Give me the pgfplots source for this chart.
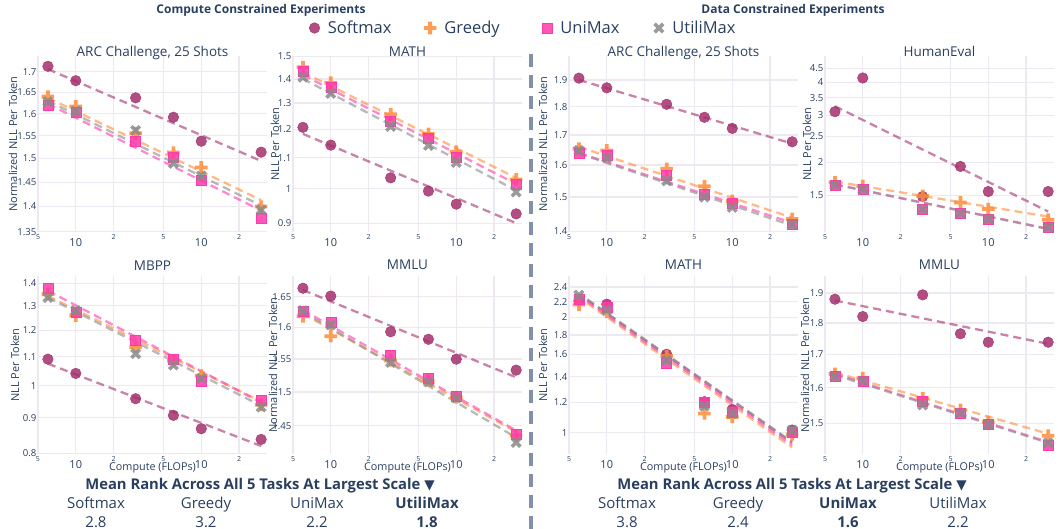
\documentclass[border=0pt]{standalone}
\usepackage{pgfplots}
\pgfplotsset{compat=1.18}
\usepackage{fontspec}
\setmainfont{Open Sans}
\newfontfamily\dejavu{DejaVu Sans}
\definecolor{txt}{HTML}{2A3F5F}
\definecolor{smc}{HTML}{A3306C}
\definecolor{grc}{HTML}{FF8C3A}
\definecolor{umc}{HTML}{FF3AAA}
\definecolor{utc}{HTML}{8A8A8A}
\definecolor{gridc}{HTML}{EEE8F1}
\definecolor{sepc}{HTML}{8390AB}

\pgfdeclareplotmark{fplus}{%
  \pgfmathsetmacro{\mks}{\pgfplotmarksize}%
  \pgfmathsetmacro{\mkw}{0.3*\pgfplotmarksize}%
  \pgfpathmoveto{\pgfpoint{-\mkw pt}{\mks pt}}%
  \pgfpathlineto{\pgfpoint{\mkw pt}{\mks pt}}%
  \pgfpathlineto{\pgfpoint{\mkw pt}{\mkw pt}}%
  \pgfpathlineto{\pgfpoint{\mks pt}{\mkw pt}}%
  \pgfpathlineto{\pgfpoint{\mks pt}{-\mkw pt}}%
  \pgfpathlineto{\pgfpoint{\mkw pt}{-\mkw pt}}%
  \pgfpathlineto{\pgfpoint{\mkw pt}{-\mks pt}}%
  \pgfpathlineto{\pgfpoint{-\mkw pt}{-\mks pt}}%
  \pgfpathlineto{\pgfpoint{-\mkw pt}{-\mkw pt}}%
  \pgfpathlineto{\pgfpoint{-\mks pt}{-\mkw pt}}%
  \pgfpathlineto{\pgfpoint{-\mks pt}{\mkw pt}}%
  \pgfpathlineto{\pgfpoint{-\mkw pt}{\mkw pt}}%
  \pgfpathclose\pgfusepathqfill}
\pgfdeclareplotmark{fcross}{%
  \pgfscope\pgftransformrotate{45}%
  \pgfmathsetmacro{\mks}{\pgfplotmarksize}%
  \pgfmathsetmacro{\mkw}{0.3*\pgfplotmarksize}%
  \pgfpathmoveto{\pgfpoint{-\mkw pt}{\mks pt}}%
  \pgfpathlineto{\pgfpoint{\mkw pt}{\mks pt}}%
  \pgfpathlineto{\pgfpoint{\mkw pt}{\mkw pt}}%
  \pgfpathlineto{\pgfpoint{\mks pt}{\mkw pt}}%
  \pgfpathlineto{\pgfpoint{\mks pt}{-\mkw pt}}%
  \pgfpathlineto{\pgfpoint{\mkw pt}{-\mkw pt}}%
  \pgfpathlineto{\pgfpoint{\mkw pt}{-\mks pt}}%
  \pgfpathlineto{\pgfpoint{-\mkw pt}{-\mks pt}}%
  \pgfpathlineto{\pgfpoint{-\mkw pt}{-\mkw pt}}%
  \pgfpathlineto{\pgfpoint{-\mks pt}{-\mkw pt}}%
  \pgfpathlineto{\pgfpoint{-\mks pt}{\mkw pt}}%
  \pgfpathlineto{\pgfpoint{-\mkw pt}{\mkw pt}}%
  \pgfpathclose\pgfusepathqfill\endpgfscope}

\newcommand{\smlab}[1]{\raisebox{-8pt}[0pt][0pt]{\fontsize{7}{7}\selectfont #1}}
\newcommand{\biglab}[1]{\raisebox{-15pt}[0pt][0pt]{\fontsize{11}{11}\selectfont #1}}

\pgfplotsset{
  mysm/.style={only marks, mark=*, mark size=5.3pt, color=smc, mark options={draw=none, fill=smc, fill opacity=0.85}},
  mygr/.style={only marks, mark=fplus, mark size=6.3pt, color=grc, mark options={draw=none, fill=grc, fill opacity=0.85}},
  myum/.style={only marks, mark=square*, mark size=5pt, color=umc, mark options={draw=none, fill=umc, fill opacity=0.85}},
  myut/.style={only marks, mark=fcross, mark size=6pt, color=utc, mark options={draw=none, fill=utc, fill opacity=0.85}},
  myfit/.style={no marks, line width=2.3pt, dash pattern=on 8pt off 5pt, opacity=0.6, forget plot},
  mypanel/.style={scale only axis, width=229pt, xmin=5, xmax=334,
    axis line style={draw=none}, major tick length=0pt, minor tick length=0pt,
    xtick={5,10,20,50,100,200},
    xticklabels={\smlab{5},\biglab{10},\smlab{2},\smlab{5},\biglab{10},\smlab{2}},
    xmajorgrids, ymajorgrids, grid style={gridc, line width=1.3pt},
    tick label style={font=\fontsize{9.6}{12}\selectfont, text=txt},
    xticklabel style={anchor=center, inner sep=0pt},
    yticklabel style={anchor=east, inner sep=0pt, xshift=-1.5pt},
    ylabel style={font=\fontsize{11}{13}\selectfont, text=txt, anchor=center},
    title style={font=\fontsize{13.5}{16}\selectfont, text=txt, anchor=base, at={(0.5,1)}},
    xlabel style={font=\fontsize{10.8}{13}\selectfont, text=txt},
  },
  myrowa/.style={height=176pt, title style={yshift=-7pt}},
  myrowb/.style={height=178pt, title style={yshift=0pt}},
}

\begin{document}
\begin{tikzpicture}
\useasboundingbox (0pt,0pt) rectangle (1058pt,529pt);

% ---------- P1: ARC compute
\begin{axis}[mypanel,myrowa,xmode=log,ymode=log,at={(38pt,297pt)},anchor=south west,
  ymin=1.3497,ymax=1.7388,
  ytick={1.35,1.4,1.45,1.5,1.55,1.6,1.65,1.7},yticklabels={1.35,1.4,1.45,1.5,1.55,1.6,1.65,1.7},
  title={ARC Challenge, 25 Shots},
  ylabel={Normalized NLL Per Token},ylabel style={at={(axis description cs:-0.109,0.5)}}]
\addplot[myfit,smc] coordinates {(6,1.706) (300,1.495)};
\addplot[myfit,grc] coordinates {(6,1.637) (300,1.413)};
\addplot[myfit,umc] coordinates {(6,1.623) (300,1.392)};
\addplot[myfit,utc] coordinates {(6,1.630) (300,1.402)};
\addplot[mysm] coordinates {(6,1.713) (10,1.678) (30,1.637) (60,1.592) (100,1.538) (300,1.514)};
\addplot[mygr] coordinates {(6,1.640) (10,1.617) (30,1.556) (60,1.513) (100,1.481) (300,1.400)};
\addplot[myum] coordinates {(6,1.620) (10,1.603) (30,1.537) (60,1.503) (100,1.455) (300,1.377)};
\addplot[myut] coordinates {(6,1.628) (10,1.606) (30,1.562) (60,1.490) (100,1.463) (300,1.393)};
\end{axis}

% ---------- P2: MATH compute
\begin{axis}[mypanel,myrowa,xmode=log,ymode=log,at={(293pt,297pt)},anchor=south west,
  ymin=0.876,ymax=1.502,
  ytick={0.9,1,1.1,1.2,1.3,1.4,1.5},yticklabels={0.9,1,1.1,1.2,1.3,1.4,1.5},
  title={MATH},
  ylabel={NLL Per Token},ylabel style={at={(axis description cs:-0.079,0.5)}},
  legend columns=4, legend cell align=left,
  legend style={at={(axis description cs:0.070,1.159)},anchor=west,draw=none,fill=none,
    inner sep=0pt,font=\fontsize{16.5}{20}\selectfont,text=txt,
    /tikz/every even column/.append style={column sep=0pt}}]
\addplot[myfit,smc] coordinates {(6,1.183) (300,0.900)};
\addplot[myfit,grc] coordinates {(6,1.429) (300,1.034)};
\addplot[myfit,umc] coordinates {(6,1.417) (300,1.015)};
\addplot[myfit,utc] coordinates {(6,1.400) (300,0.995)};
\addplot[mysm] coordinates {(6,1.207) (10,1.143) (30,1.034) (60,0.993) (100,0.954) (300,0.926)};
\addlegendentry{\makebox[100pt][l]{\hspace{6pt}Softmax}}
\addplot[mygr] coordinates {(6,1.451) (10,1.384) (30,1.256) (60,1.183) (100,1.120) (300,1.029)};
\addlegendentry{\makebox[102pt][l]{\hspace{6pt}Greedy}}
\addplot[myum] coordinates {(6,1.432) (10,1.366) (30,1.231) (60,1.166) (100,1.100) (300,1.013)};
\addlegendentry{\makebox[97pt][l]{\hspace{6pt}UniMax}}
\addplot[myut] coordinates {(6,1.408) (10,1.339) (30,1.210) (60,1.142) (100,1.084) (300,0.990)};
\addlegendentry{\makebox[75pt][l]{\hspace{6pt}UtiliMax}}
\end{axis}

% ---------- P3: ARC data
\begin{axis}[mypanel,myrowa,xmode=log,ymode=log,at={(569pt,297pt)},anchor=south west,
  ymin=1.398,ymax=1.994,
  ytick={1.4,1.5,1.6,1.7,1.8,1.9},yticklabels={1.4,1.5,1.6,1.7,1.8,1.9},
  title={ARC Challenge, 25 Shots},
  ylabel={Normalized NLL Per Token},ylabel style={at={(axis description cs:-0.114,0.5)}}]
\addplot[myfit,smc] coordinates {(6,1.900) (300,1.671)};
\addplot[myfit,grc] coordinates {(6,1.660) (300,1.439)};
\addplot[myfit,umc] coordinates {(6,1.640) (300,1.424)};
\addplot[myfit,utc] coordinates {(6,1.638) (300,1.416)};
\addplot[mysm] coordinates {(6,1.907) (10,1.870) (30,1.809) (60,1.762) (100,1.723) (300,1.677)};
\addplot[mygr] coordinates {(6,1.654) (10,1.648) (30,1.588) (60,1.533) (100,1.488) (300,1.435)};
\addplot[myum] coordinates {(6,1.638) (10,1.632) (30,1.569) (60,1.508) (100,1.483) (300,1.421)};
\addplot[myut] coordinates {(6,1.648) (10,1.624) (30,1.550) (60,1.500) (100,1.469) (300,1.419)};
\end{axis}

% ---------- P4: HumanEval
\begin{axis}[mypanel,myrowa,xmode=log,ymode=log,at={(825pt,297pt)},anchor=south west,
  ymin=1.094,ymax=5.02,
  ytick={1.5,2,2.5,3,3.5,4,4.5},yticklabels={1.5,2,2.5,3,3.5,4,4.5},
  title={HumanEval},
  ylabel={NLL Per Token},ylabel style={at={(axis description cs:-0.079,0.5)}}]
\addplot[myfit,smc] coordinates {(6,3.25) (300,1.306)};
\addplot[myfit,grc] coordinates {(6,1.693) (300,1.25)};
\addplot[myfit,umc] coordinates {(6,1.654) (300,1.125)};
\addplot[myfit,utc] coordinates {(6,1.650) (300,1.122)};
\addplot[mysm] coordinates {(6,3.10) (10,4.15) (30,1.487) (60,1.93) (100,1.553) (300,1.553)};
\addplot[mygr] coordinates {(6,1.68) (10,1.63) (30,1.495) (60,1.413) (100,1.334) (300,1.216)};
\addplot[myum] coordinates {(6,1.645) (10,1.585) (30,1.336) (60,1.288) (100,1.226) (300,1.14)};
\addplot[myut] coordinates {(6,1.64) (10,1.58) (30,1.33) (60,1.285) (100,1.222) (300,1.137)};
\end{axis}

% ---------- P5: MBPP
\begin{axis}[mypanel,myrowb,xmode=log,ymode=log,at={(38pt,75pt)},anchor=south west,
  ymin=0.799,ymax=1.434,
  ytick={0.8,0.9,1,1.1,1.2,1.3,1.4},yticklabels={0.8,0.9,1,1.1,1.2,1.3,1.4},
  title={MBPP},xlabel={Compute (FLOPs)},xlabel style={at={(axis description cs:0.5,-0.08)},anchor=center},
  ylabel={NLL Per Token},ylabel style={at={(axis description cs:-0.1,0.5)}}]
\addplot[myfit,smc] coordinates {(6,1.075) (300,0.820)};
\addplot[myfit,grc] coordinates {(6,1.343) (300,0.949)};
\addplot[myfit,umc] coordinates {(6,1.366) (300,0.946)};
\addplot[myfit,utc] coordinates {(6,1.336) (300,0.936)};
\addplot[mysm] coordinates {(6,1.091) (10,1.041) (30,0.958) (60,0.907) (100,0.868) (300,0.838)};
\addplot[mygr] coordinates {(6,1.351) (10,1.259) (30,1.136) (60,1.085) (100,1.033) (300,0.939)};
\addplot[myum] coordinates {(6,1.377) (10,1.273) (30,1.163) (60,1.090) (100,1.016) (300,0.952)};
\addplot[myut] coordinates {(6,1.336) (10,1.280) (30,1.111) (60,1.070) (100,1.024) (300,0.932)};
\end{axis}

% ---------- P6: MMLU compute
\begin{axis}[mypanel,myrowb,xmode=log,ymode=log,at={(293pt,75pt)},anchor=south west,
  ymin=1.4096,ymax=1.6845,
  ytick={1.45,1.5,1.55,1.6,1.65},yticklabels={1.45,1.5,1.55,1.6,1.65},
  title={MMLU},xlabel={Compute (FLOPs)},xlabel style={at={(axis description cs:0.5,-0.08)},anchor=center},
  ylabel={Normalized NLL Per Token},ylabel style={at={(axis description cs:-0.087,0.5)}}]
\addplot[myfit,smc] coordinates {(6,1.661) (300,1.522)};
\addplot[myfit,grc] coordinates {(6,1.622) (300,1.441)};
\addplot[myfit,umc] coordinates {(6,1.628) (300,1.443)};
\addplot[myfit,utc] coordinates {(6,1.625) (300,1.433)};
\addplot[mysm] coordinates {(6,1.664) (10,1.651) (30,1.593) (60,1.581) (100,1.550) (300,1.533)};
\addplot[mygr] coordinates {(6,1.618) (10,1.586) (30,1.548) (60,1.517) (100,1.492) (300,1.436)};
\addplot[myum] coordinates {(6,1.626) (10,1.609) (30,1.556) (60,1.520) (100,1.493) (300,1.438)};
\addplot[myut] coordinates {(6,1.627) (10,1.604) (30,1.545) (60,1.515) (100,1.491) (300,1.426)};
\end{axis}

% ---------- P7: MATH data
\begin{axis}[mypanel,myrowb,xmode=log,ymode=log,at={(569pt,75pt)},anchor=south west,
  ymin=0.880,ymax=2.566,
  ytick={1,1.2,1.4,1.6,1.8,2,2.2,2.4},yticklabels={1,1.2,1.4,1.6,1.8,2,2.2,2.4},
  title={MATH},xlabel={Compute (FLOPs)},xlabel style={at={(axis description cs:0.5,-0.08)},anchor=center},
  ylabel={NLL Per Token},ylabel style={at={(axis description cs:-0.114,0.5)}}]
\addplot[myfit,smc] coordinates {(7,2.221) (300,0.942)};
\addplot[myfit,grc] coordinates {(7,2.177) (300,0.915)};
\addplot[myfit,umc] coordinates {(7,2.200) (300,0.929)};
\addplot[myfit,utc] coordinates {(7,2.229) (300,0.947)};
\addplot[mysm] coordinates {(6,2.21) (10,2.166) (30,1.603) (60,1.205) (100,1.150) (300,1.016)};
\addplot[mygr] coordinates {(6,2.162) (10,2.069) (30,1.585) (60,1.123) (100,1.100) (300,0.990)};
\addplot[myum] coordinates {(6,2.228) (10,2.130) (30,1.522) (60,1.198) (100,1.128) (300,1.006)};
\addplot[myut] coordinates {(6,2.286) (10,2.090) (30,1.547) (60,1.174) (100,1.123) (300,1.016)};
\end{axis}

% ---------- P8: MMLU data
\begin{axis}[mypanel,myrowb,xmode=log,ymode=log,at={(825pt,75pt)},anchor=south west,
  ymin=1.419,ymax=1.960,
  ytick={1.5,1.6,1.7,1.8,1.9},yticklabels={1.5,1.6,1.7,1.8,1.9},
  title={MMLU},xlabel={Compute (FLOPs)},xlabel style={at={(axis description cs:0.5,-0.08)},anchor=center},
  ylabel={Normalized NLL Per Token},ylabel style={at={(axis description cs:-0.087,0.5)}}]
\addplot[myfit,smc] coordinates {(6,1.875) (300,1.733)};
\addplot[myfit,grc] coordinates {(6,1.645) (300,1.472)};
\addplot[myfit,umc] coordinates {(6,1.641) (300,1.450)};
\addplot[myfit,utc] coordinates {(6,1.638) (300,1.448)};
\addplot[mysm] coordinates {(6,1.879) (10,1.821) (30,1.894) (60,1.765) (100,1.738) (300,1.738)};
\addplot[mygr] coordinates {(6,1.641) (10,1.628) (30,1.570) (60,1.537) (100,1.503) (300,1.467)};
\addplot[myum] coordinates {(6,1.635) (10,1.618) (30,1.561) (60,1.529) (100,1.499) (300,1.442)};
\addplot[myut] coordinates {(6,1.633) (10,1.620) (30,1.551) (60,1.528) (100,1.497) (300,1.448)};
\end{axis}

% separator
\draw[sepc, line width=3.5pt, dash pattern=on 13pt off 8pt] (531pt,0pt) -- (531pt,477pt);

% headers
\node[text=txt,font=\fontsize{12}{14}\selectfont\bfseries] at (261pt,519pt) {Compute Constrained Experiments};
\node[text=txt,font=\fontsize{12}{14}\selectfont\bfseries] at (793pt,519pt) {Data Constrained Experiments};

% bottom rank tables
\node[text=txt,font=\fontsize{14.8}{18}\selectfont\bfseries,anchor=base] at (260pt,39.5pt) {Mean Rank Across All 5 Tasks At Largest Scale {\dejavu\fontsize{13.5}{16}\selectfont ▼}};
\node[text=txt,font=\fontsize{14.8}{18}\selectfont\bfseries,anchor=base] at (792pt,39.5pt) {Mean Rank Across All 5 Tasks At Largest Scale {\dejavu\fontsize{13.5}{16}\selectfont ▼}};
\begin{scope}[every node/.style={text=txt,font=\fontsize{15}{17}\selectfont,anchor=base}]
\node at (96pt,20.5pt) {Softmax};
\node at (206pt,20.5pt) {Greedy};
\node at (317pt,20.5pt) {UniMax};
\node[font=\fontsize{15}{17}\selectfont\bfseries] at (427pt,20.5pt) {UtiliMax};
\node at (96pt,1.5pt) {2.8};
\node at (206pt,1.5pt) {3.2};
\node at (317pt,1.5pt) {2.2};
\node[font=\fontsize{15}{17}\selectfont\bfseries] at (427pt,1.5pt) {1.8};
\node at (627pt,20.5pt) {Softmax};
\node at (738pt,20.5pt) {Greedy};
\node[font=\fontsize{15}{17}\selectfont\bfseries] at (848pt,20.5pt) {UniMax};
\node at (958pt,20.5pt) {UtiliMax};
\node at (627pt,1.5pt) {3.8};
\node at (738pt,1.5pt) {2.4};
\node[font=\fontsize{15}{17}\selectfont\bfseries] at (848pt,1.5pt) {1.6};
\node at (958pt,1.5pt) {2.2};
\end{scope}
\end{tikzpicture}
\end{document}
